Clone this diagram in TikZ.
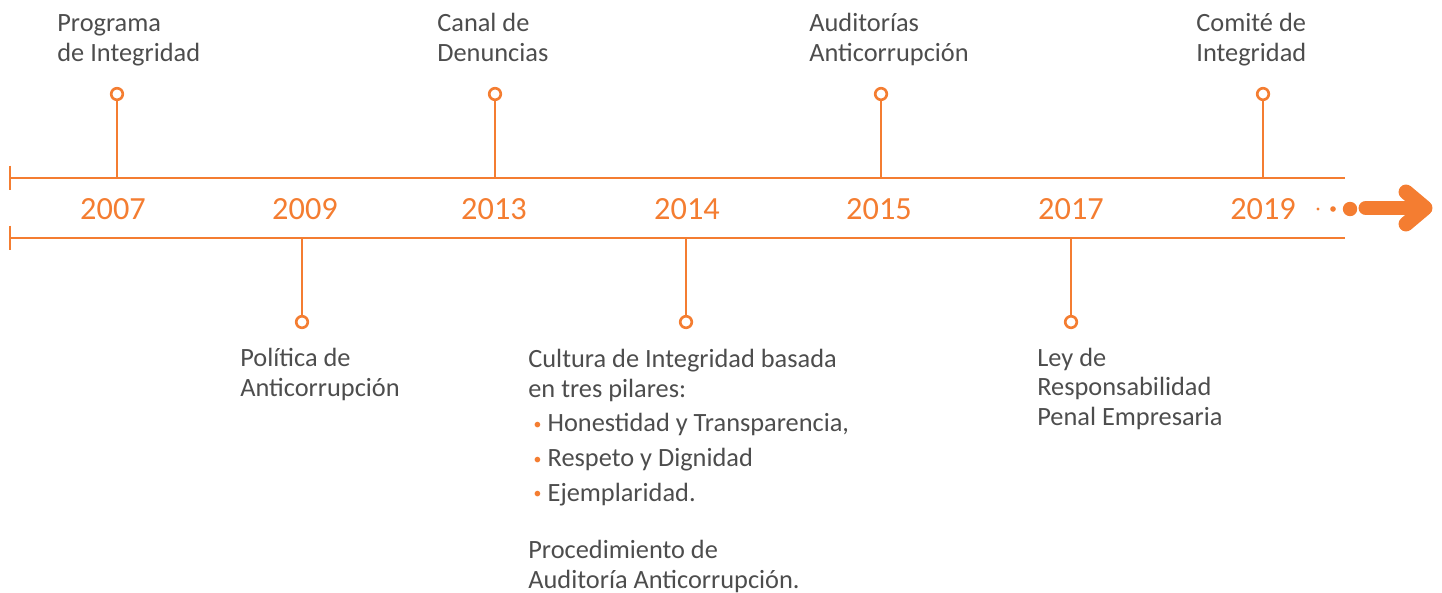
\documentclass[tikz,border=0pt]{standalone}
\usepackage{fontspec}
\setmainfont{Carlito}
\definecolor{naranja}{HTML}{F47D31}
\definecolor{gristexto}{HTML}{4D4D4D}
\tikzset{
  eje/.style={naranja, line width=1.4pt},
  hito/.style={circle, draw=naranja, fill=white, line width=1.5pt, minimum size=6.6pt, inner sep=0pt},
  anio/.style={text=naranja, font=\fontsize{18.4}{20}\selectfont, anchor=base},
  etiqueta/.style={text=gristexto, font=\fontsize{15}{16.7}\selectfont, align=left, anchor=base west, inner sep=0pt},
  punto/.style={fill=naranja, draw=none},
  flecha/.style={naranja, line width=8.5pt, line cap=round, line join=round},
}
\newcommand{\vineta}{\hspace{3pt}{\color{naranja}\fontsize{9}{9}\selectfont\raisebox{1.2pt}{\textbullet}}\hspace{3.5pt}}
\begin{document}
\begin{tikzpicture}[x=0.02cm, y=-0.02cm]
\useasboundingbox (0,0) rectangle (1442,592);
% ejes del tiempo
\coordinate (ejeA0) at (10,178);
\coordinate (ejeA1) at (1345,178);
\coordinate (ejeB0) at (10,238);
\coordinate (ejeB1) at (1345,238);
\draw[eje] (ejeA0) -- (ejeA1);
\draw[eje] (ejeB0) -- (ejeB1);
\draw[eje] ([yshift=7]ejeA0) -- ([yshift=-7]ejeA0);
\draw[eje] ([yshift=7]ejeB0) -- ([yshift=-7]ejeB0);
% anios
\foreach \a/\x in {2007/113, 2009/305, 2013/494, 2014/687, 2015/879, 2017/1071, 2019/1263}
  \node[anio] (a\a) at (\x,219) {\a};
% hitos arriba
\foreach \a/\x in {2007/117, 2013/495, 2015/881, 2019/1263} {
  \coordinate (e\a) at (\x,178);
  \node[hito] (c\a) at (\x,94) {};
  \draw[eje] (e\a) -- (c\a);
}
% hitos abajo
\foreach \a/\x in {2009/302, 2014/686, 2017/1071} {
  \coordinate (e\a) at (\x,238);
  \node[hito] (c\a) at (\x,322) {};
  \draw[eje] (e\a) -- (c\a);
}
% textos (anclados en la base de la ultima linea)
\node[etiqueta] (l2007) at (57,61) {Programa\\de Integridad};
\node[etiqueta] (l2013) at (437,61) {Canal de\\Denuncias};
\node[etiqueta] (l2015) at (809,61) {Auditorías\\Anticorrupción};
\node[etiqueta] (l2019) at (1196,61) {Comité de\\Integridad};
\node[etiqueta] (l2009) at (240,396) {Política de\\Anticorrupción};
\node[etiqueta] (l2014) at (528,501) {Cultura de Integridad basada\\en tres pilares:\\[3pt]
  \vineta Honestidad y Transparencia,\\[3pt]
  \vineta Respeto y Dignidad\\[3pt]
  \vineta Ejemplaridad.};
\node[etiqueta] (p2014) at (528,588) {Procedimiento de\\Auditoría Anticorrupción.};
\node[etiqueta] (l2017) at (1037,425) {Ley de\\Responsabilidad\\Penal Empresaria};
% flecha final
\fill[punto] (1318,209) circle (1.6);
\fill[punto] (1333,209) circle (2.8);
\fill[punto] (1350,209) circle (7.2);
\draw[flecha] (1366,208) -- (1424,208);
\draw[flecha] (1406,192) -- (1425,208) -- (1406,224);
\end{tikzpicture}
\end{document}
